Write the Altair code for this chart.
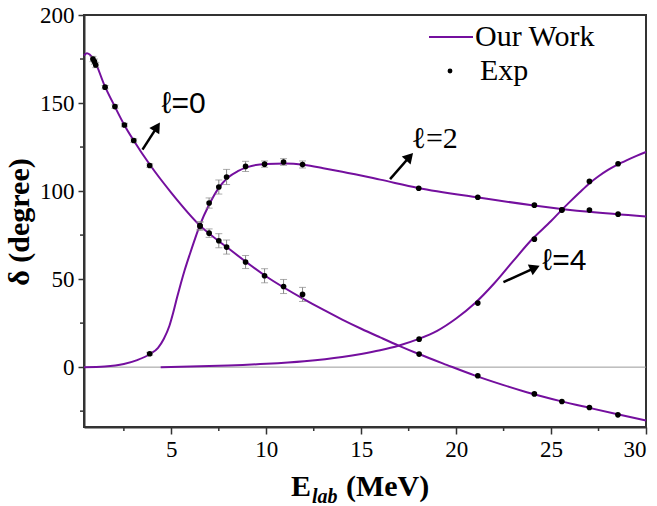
import altair as alt
import pandas as pd

# ---------------- data ----------------
# l = 0 phase shift curve (Our Work)
l0_E = [0.4, 0.55, 0.9, 1.5, 2.0, 2.5, 3.0, 3.9, 5.0, 6.5, 8.0, 10.0, 12.0, 13.0, 14.0, 15.0,
        16.0, 17.0, 18.0, 19.5, 21.0, 22.5, 24.0, 25.5, 27.0, 28.5, 30.0]
l0_d = [177.0, 178.3, 175.0, 159.5, 148.5, 138.0, 129.0, 114.5, 99.0, 80.5, 67.5, 51.5, 38.5, 32.6,
        27.0, 21.8, 16.9, 12.1, 7.6, 1.3, -4.8, -10.2, -15.1, -19.3, -23.1, -26.8, -30.3]

# l = 2 curve
l2_E = [0.4, 1.5, 2.5, 3.2, 3.9, 4.3, 4.6, 4.9, 5.1, 5.3, 5.5, 5.7, 6.0, 6.25, 6.5, 7.0, 7.5, 8.0,
        8.5, 9.0, 10.0, 11.0, 12.0, 13.0, 14.0, 16.0, 18.0, 21.0, 24.0, 27.0, 30.0]
l2_d = [0.0, 0.4, 1.8, 4.0, 7.6, 11.0, 16.0, 23.5, 31.0, 39.5, 47.5, 55.0, 65.0, 73.0, 80.5, 92.5,
        101.8, 107.8, 111.3, 113.6, 115.4, 115.6, 114.8, 113.0, 111.0, 106.5, 101.8, 96.6, 92.0,
        88.2, 85.6]

# l = 4 curve
l4_E = [4.44, 6.0, 8.0, 10.0, 12.0, 14.0, 15.0, 16.0, 17.0, 18.0, 19.0, 20.0, 21.0, 22.0, 23.0,
        24.0, 25.0, 25.5, 26.0, 26.5, 27.0, 27.5, 28.0, 28.5, 29.0, 29.5, 30.0]
l4_d = [0.0, 0.3, 0.9, 1.9, 3.4, 5.8, 7.5, 9.6, 12.3, 15.9, 20.6, 27.6, 36.4, 47.5, 60.2, 72.6,
        83.0, 88.6, 94.0, 99.2, 104.2, 108.4, 112.0, 115.0, 117.6, 120.0, 122.2]

# experimental points (Exp)
exp0_E = [0.87, 0.95, 1.02, 1.51, 2.03, 2.53, 3.02, 3.86, 6.51, 6.99, 7.50, 7.91, 8.91, 9.91,
          10.91, 11.91, 18.05, 21.14, 24.12, 25.57, 27.02, 28.52]
exp0_d = [175.0, 173.5, 171.6, 159.0, 148.0, 137.5, 128.7, 114.5, 80.2, 76.1, 71.8, 68.2, 59.7,
          51.9, 45.8, 41.3, 7.4, -4.9, -15.2, -19.5, -22.9, -27.1]
exp0_err = [1.5, 1.5, 1.5, 1.0, 1.0, 1.0, 1.0, 1.0, 2.0, 2.4, 4.0, 4.0, 3.7, 4.0,
            4.0, 4.0, 0, 0, 0, 0, 0, 0]

exp2_E = [3.86, 6.51, 6.99, 7.50, 7.91, 8.91, 9.91, 10.91, 11.91, 18.03, 21.14, 24.12, 25.57,
          27.02, 28.53]
exp2_d = [7.6, 80.2, 93.2, 102.3, 108.0, 114.0, 115.3, 116.5, 115.1, 101.6, 96.5, 92.0, 89.2,
          89.2, 86.9]
exp2_err = [0.8, 2.5, 2.9, 4.0, 4.3, 2.9, 1.8, 1.9, 2.0, 0, 0, 0, 0, 0, 0]

exp4_E = [18.05, 21.14, 24.12, 25.57, 27.02, 28.53]
exp4_d = [15.9, 36.4, 72.7, 89.4, 105.5, 115.5]
exp4_err = [0, 0, 0, 0, 0, 0]

x_ticks = [5, 10, 15, 20, 25, 30]
x_minor = [2.5, 7.5, 12.5, 17.5, 22.5, 27.5]
y_ticks = [0, 50, 100, 150, 200]
y_minor = [-25, 25, 75, 125, 175]

labels_txt = ["\u2113=0", "\u2113=2", "\u2113=4"]
labels_E = [4.50, 17.65, 24.55]
labels_d = [149.6, 129.7, 60.4]
labels_font = ["Liberation Sans", "Liberation Serif", "Liberation Sans"]

arrow_E0 = [3.48, 16.52, 22.49]
arrow_d0 = [123.5, 106.8, 48.3]
arrow_E1 = [4.25, 17.55, 24.15]
arrow_d1 = [136.5, 119.5, 56.4]
arrow_ang = [33, 42, 66]

# ---------------- tables ----------------
curves = pd.concat([
    pd.DataFrame({"E": l0_E, "d": l0_d, "l": "0"}),
    pd.DataFrame({"E": l2_E, "d": l2_d, "l": "2"}),
    pd.DataFrame({"E": l4_E, "d": l4_d, "l": "4"}),
], ignore_index=True)

exp = pd.concat([
    pd.DataFrame({"E": exp0_E, "d": exp0_d, "err": exp0_err}),
    pd.DataFrame({"E": exp2_E, "d": exp2_d, "err": exp2_err}),
    pd.DataFrame({"E": exp4_E, "d": exp4_d, "err": exp4_err}),
], ignore_index=True)
exp["lo"] = exp["d"] - exp["err"]
exp["hi"] = exp["d"] + exp["err"]
bars = exp[exp["err"] > 0]

arrows = pd.DataFrame({"E0": arrow_E0, "d0": arrow_d0, "E1": arrow_E1, "d1": arrow_d1,
                       "ang": arrow_ang})

PURPLE = "#740F9E"
SERIF = "Liberation Serif, Times New Roman, serif"
W, H = 562, 412

xs = alt.Scale(domain=[0.4, 30], nice=False, zero=False)
ys = alt.Scale(domain=[-34, 200], nice=False, zero=False)

xax = alt.Axis(values=x_ticks, title=None, grid=False, tickSize=7, tickWidth=1.5,
               tickColor="#333", domainColor="#333", domainWidth=2, labelFont=SERIF,
               labelFontSize=23, labelColor="black", labelPadding=4, format="d")
yax = alt.Axis(values=y_ticks, title=None, grid=False, tickSize=6, tickWidth=1.5,
               tickColor="#333", domainColor="#333", domainWidth=2, labelFont=SERIF,
               labelFontSize=23, labelColor="black", labelPadding=4, format="d")

base_x = alt.X("E:Q", scale=xs, axis=xax)
base_y = alt.Y("d:Q", scale=ys, axis=yax)

zero = alt.Chart(pd.DataFrame({"z": [0]})).mark_rule(color="#9a9a9a", strokeWidth=1).encode(
    y=alt.Y("z:Q", scale=ys, axis=yax))

lines = alt.Chart(curves).mark_line(color=PURPLE, strokeWidth=2, interpolate="monotone").encode(
    x=base_x, y=base_y, detail="l:N")

ebar = alt.Chart(bars).mark_rule(color="#888", strokeWidth=1).encode(
    x=alt.X("E:Q", scale=xs, axis=xax), y=alt.Y("lo:Q", scale=ys, axis=yax), y2="hi:Q")
cap_lo = alt.Chart(bars).mark_tick(color="#888", orient="horizontal", size=7, thickness=1).encode(
    x=alt.X("E:Q", scale=xs, axis=xax), y=alt.Y("lo:Q", scale=ys, axis=yax))
cap_hi = alt.Chart(bars).mark_tick(color="#888", orient="horizontal", size=7, thickness=1).encode(
    x=alt.X("E:Q", scale=xs, axis=xax), y=alt.Y("hi:Q", scale=ys, axis=yax))

pts = alt.Chart(exp).mark_circle(color="black", size=32, opacity=1).encode(x=base_x, y=base_y)

# minor ticks
xminor = alt.Chart(pd.DataFrame({"m": x_minor})).mark_rule(color="#333", strokeWidth=1.5).encode(
    x=alt.X("m:Q", scale=xs, axis=xax), y=alt.value(H), y2=alt.value(H + 4))
yminor = alt.Chart(pd.DataFrame({"m": y_minor})).mark_rule(color="#333", strokeWidth=1.5).encode(
    y=alt.Y("m:Q", scale=ys, axis=yax), x=alt.value(0), x2=alt.value(-4))

# arrows
arr_line = alt.Chart(arrows).mark_rule(color="black", strokeWidth=2.5).encode(
    x=alt.X("E0:Q", scale=xs, axis=xax), y=alt.Y("d0:Q", scale=ys, axis=yax),
    x2="E1:Q", y2="d1:Q")
arr_head = alt.Chart(arrows).mark_point(shape="triangle-up", filled=True, color="black",
                                        size=140, opacity=1).encode(
    x=alt.X("E1:Q", scale=xs, axis=xax), y=alt.Y("d1:Q", scale=ys, axis=yax),
    angle=alt.Angle("ang:Q", scale=None))

ann_layers = []
for t, e, d, f in zip(labels_txt, labels_E, labels_d, labels_font):
    ann_layers.append(
        alt.Chart(pd.DataFrame({"E": [e], "d": [d], "t": [t]})).mark_text(
            font=f, fontSize=30, color="black", align="left", baseline="middle").encode(
            x=alt.X("E:Q", scale=xs, axis=xax), y=alt.Y("d:Q", scale=ys, axis=yax), text="t:N"))

one = pd.DataFrame({"k": [0]})

def txt(s, x, y, size, style="normal", weight="bold", angle=0, align="left",
        baseline="alphabetic", font=SERIF):
    return alt.Chart(one).mark_text(text=s, font=font, fontSize=size, fontWeight=weight,
                                    fontStyle=style, color="black", align=align,
                                    baseline=baseline, angle=angle).encode(
        x=alt.value(x), y=alt.value(y))

# axis titles
xt1 = txt("E", 207, 481, 30)
xt2 = txt("lab", 228, 488, 20, style="italic")
xt3 = txt("(MeV)", 262, 481, 30)
yt = txt("\u03b4 (degree)", -64, 207, 30, angle=270, align="center", baseline="middle")

# legend
leg_line = alt.Chart(one).mark_rule(color=PURPLE, strokeWidth=2).encode(
    x=alt.value(345), x2=alt.value(389), y=alt.value(22))
leg_t1 = txt("Our Work", 391, 22, 30, weight="normal", baseline="middle")
leg_dot = alt.Chart(one).mark_circle(color="black", size=24, opacity=1).encode(
    x=alt.value(366), y=alt.value(56))
leg_t2 = txt("Exp", 396, 56, 30, weight="normal", baseline="middle")

chart = alt.layer(
    zero, lines, ebar, cap_lo, cap_hi, pts, xminor, yminor, arr_line, arr_head,
    *ann_layers, xt1, xt2, xt3, yt, leg_line, leg_t1, leg_dot, leg_t2
).properties(
    width=W, height=H,
    autosize=alt.AutoSizeParams(type="none"),
    padding={"left": 84, "top": 15, "right": 11, "bottom": 79},
    background="white",
).configure_view(stroke="#333", strokeWidth=2)

chart.save("out.html", embed_options={"renderer": "svg", "actions": False})
